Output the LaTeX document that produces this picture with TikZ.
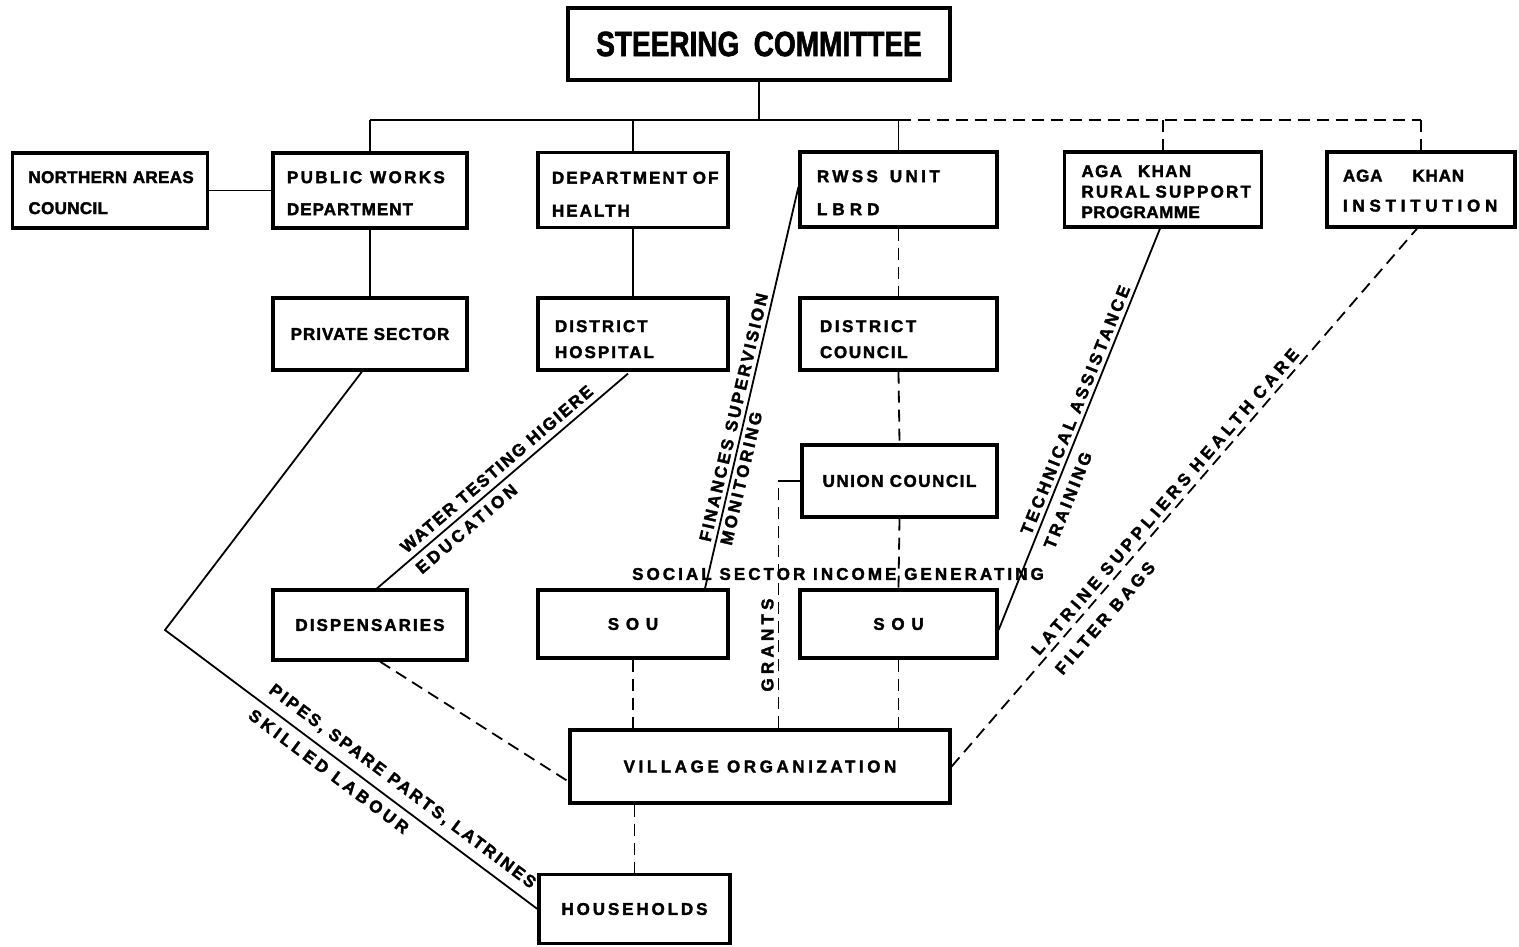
\documentclass[tikz,border=0pt]{standalone}
\usepackage{fontspec}
\usepackage{graphicx}
\newfontfamily\lettering{Liberation Sans}[BoldFeatures={FakeBold=2}]
\usetikzlibrary{calc}
% heavy lettering: #1 = line spacing, #2 = letter spacing
\newcommand\lettr[2]{\lettering\bfseries\fontsize{17}{#1}\selectfont\addfontfeatures{LetterSpace=#2}}
\newcommand\trackby[1]{\addfontfeatures{LetterSpace=#1}}
% invisible strut that lowers a block of lines inside its box
\newcommand\topgap[1]{\rule{0pt}{#1}}
\begin{document}
\begin{tikzpicture}[x=1pt,y=-1pt,
  every node/.style={inner sep=0pt},
  box/.style={draw, line width=3.2pt, fill=white},
  link/.style={line width=1.8pt},
  dashlink/.style={line width=1.8pt, dash pattern=on 12pt off 7pt},
  lab/.style={sloped}
]
\fill[white] (0,0) rectangle (1519,946);
\useasboundingbox (0,0) rectangle (1519,946);

% ---------- boxes ----------
\node[box, line width=4pt, minimum width=382pt, minimum height=72pt,
      font=\lettering\bfseries\fontsize{35}{40}\selectfont] (sc) at (759,44)
      {\scalebox{0.8}[1]{STEERING\hspace{18pt}COMMITTEE}};

\node[box, minimum width=195pt, minimum height=75pt, text width=163pt, align=left,
      font=\lettr{31}{2}] (nac) at (110,190.5)
      {\mbox{\topgap{16.2pt}NORTHERN AREAS}\\\mbox{COUNCIL}};
\node[box, minimum width=194pt, minimum height=75pt, text width=166pt, align=left,
      font=\lettr{32}{6}] (pwd) at (370,190.5)
      {\mbox{\topgap{17.2pt}{\trackby{14}PUBLIC\hspace{8pt}WORKS}}\\\mbox{DEPARTMENT}};
\node[box, minimum width=190pt, minimum height=75pt, text width=162pt, align=left,
      font=\lettr{33}{12}] (doh) at (633,190)
      {\mbox{\topgap{20.2pt}DEPARTMENT OF}\\\mbox{HEALTH}};
\node[box, minimum width=197pt, minimum height=75pt, text width=163pt, align=left,
      font=\lettr{33}{20}] (rwss) at (898.5,189.5)
      {\mbox{\topgap{18.2pt}RWSS\hspace{12pt}UNIT}\\\mbox{\trackby{30}LBRD}};
\node[box, minimum width=197pt, minimum height=75pt, text width=163pt, align=left,
      font=\lettr{20.5}{8}] (akrsp) at (1163,189.5)
      {\mbox{\topgap{16.2pt}AGA\hspace{16pt}KHAN}\\\mbox{\trackby{13}RURAL SUPPORT}\\\mbox{\trackby{3}PROGRAMME}};
\node[box, minimum width=188pt, minimum height=75pt, text width=156pt, align=left,
      font=\lettr{30}{5}] (aki) at (1421,189.5)
      {\mbox{\topgap{14.2pt}AGA\hspace{30pt}KHAN}\\\mbox{\trackby{28}INSTITUTION}};

\node[box, minimum width=194pt, minimum height=72pt, font=\lettr{20}{6}] (ps) at (370,334) {PRIVATE SECTOR};
\node[box, minimum width=190pt, minimum height=72pt, text width=156pt, align=left,
      font=\lettr{26}{12}] (dh) at (633,334)
      {\mbox{\topgap{22.2pt}DISTRICT}\\\mbox{HOSPITAL}};
\node[box, minimum width=197pt, minimum height=72pt, text width=157pt, align=left,
      font=\lettr{26}{15}] (dc) at (898.5,334)
      {\mbox{\topgap{22.2pt}DISTRICT}\\\mbox{\trackby{10}COUNCIL}};

\node[box, minimum width=195pt, minimum height=72pt, font=\lettr{20}{9}] (uc) at (899.5,481) {UNION COUNCIL};

\node[box, minimum width=194pt, minimum height=70pt, font=\lettr{20}{12}] (disp) at (370,625) {DISPENSARIES};
\node[box, minimum width=190pt, minimum height=68pt, font=\lettr{20}{12}] (sou1) at (633,624) {S O U};
\node[box, minimum width=197pt, minimum height=68pt, font=\lettr{20}{12}] (sou2) at (898.5,624) {S O U};

\node[box, minimum width=380pt, minimum height=73pt, font=\lettr{20}{21}] (vo) at (760,766.5) {VILLAGE ORGANIZATION};
\node[box, minimum width=191pt, minimum height=69pt, font=\lettr{20}{17}] (hh) at (634.5,909) {HOUSEHOLDS};

\node[font=\lettr{20}{18}] (soc) at (838,574) {SOCIAL SECTOR INCOME GENERATING};

% ---------- hierarchy ----------
\coordinate (busy) at (0,120);
\draw[link] (sc.south) -- (sc.south |- busy);
\draw[link] (pwd.north |- busy) -- (rwss.north |- busy);
\draw[dashlink] (rwss.north |- busy) -- (aki.north |- busy);
\draw[link] (pwd.north |- busy) -- (pwd.north);
\draw[link] (doh.north |- busy) -- (doh.north);
\draw[link] (rwss.north |- busy) -- (rwss.north);
\draw[dashlink] (akrsp.north |- busy) -- (akrsp.north);
\draw[dashlink] (aki.north |- busy) -- (aki.north);

\draw[link] (nac.east) -- (pwd.west);
\draw[link] (pwd.south) -- (ps.north);
\draw[link] (doh.south) -- (dh.north);
\draw[dashlink] (rwss.south) -- (dc.north);
\draw[dashlink] (dc.south) -- (uc.north);
\draw[dashlink] (uc.south) -- (sou2.north);
\draw[dashlink] (sou2.south) -- (sou2.south |- vo.north);
\draw[dashlink] (sou1.south) -- (sou1.south |- vo.north);
\draw[dashlink] (hh.north |- vo.south) -- (hh.north);

% ---------- service flows ----------
\draw[link] ($(disp.north)+(7,0)$) --
  node[lab, above=6pt, pos=0.51, font=\lettr{20}{11}] (lwat) {WATER TESTING HIGIERE}
  node[lab, below=6pt, pos=0.323, font=\lettr{20}{20}] (ledu) {EDUCATION}
  ($(dh.south)+(-5,2)$);

\draw[link] ($(sou1.north)+(72,0)$) --
  node[lab, above=4pt, pos=0.42, font=\lettr{20}{15}] (lfin) {FINANCES\hspace{8pt}SUPERVISION}
  node[lab, below=3.5pt, pos=0.28, font=\lettr{20}{17}] (lmon) {MONITORING}
  ($(rwss.west)+(0,-2.5)$);

\draw[link] ($(sou2.east)+(0,6)$) --
  node[lab, above=4pt, pos=0.538, font=\lettr{20}{18}] (ltec) {TECHNICAL\hspace{8pt}ASSISTANCE}
  node[lab, below=9pt, pos=0.338, font=\lettr{20}{17}] (ltra) {TRAINING}
  ($(akrsp.south)+(-3,0)$);

\draw[dashlink] (vo.east) --
  node[lab, above=5pt, pos=0.478, font=\lettr{20}{24}] (llat) {LATRINE\hspace{8pt}SUPPLIERS\hspace{8pt}HEALTH\hspace{8pt}CARE}
  node[lab, below=12pt, pos=0.299, font=\lettr{20}{20}] (lfil) {FILTER\hspace{8pt}BAGS}
  ($(aki.south)+(-4,0)$);

\coordinate (bend) at (165,630);
\draw[link] ($(ps.south)+(-8,0)$) -- (bend) --
  node[lab, above=8.5pt, pos=0.61, font=\lettr{20}{14}] (lpip) {PIPES, SPARE PARTS, LATRINES}
  node[lab, below=8pt, pos=0.464, font=\lettr{20}{22}] (lski) {SKILLED LABOUR}
  (hh.west);

\draw[dashlink] ($(disp.south)+(10,0)$) -- ($(vo.west)+(0,15)$);

\draw[link] (uc.west) -- ++(-22,0) coordinate (gtop);
\draw[dashlink] (gtop |- vo.north) --
  node[lab, above=4pt, pos=0.337, font=\lettr{20}{25}] (lgra) {GRANTS}
  (gtop);
\end{tikzpicture}
\end{document}
